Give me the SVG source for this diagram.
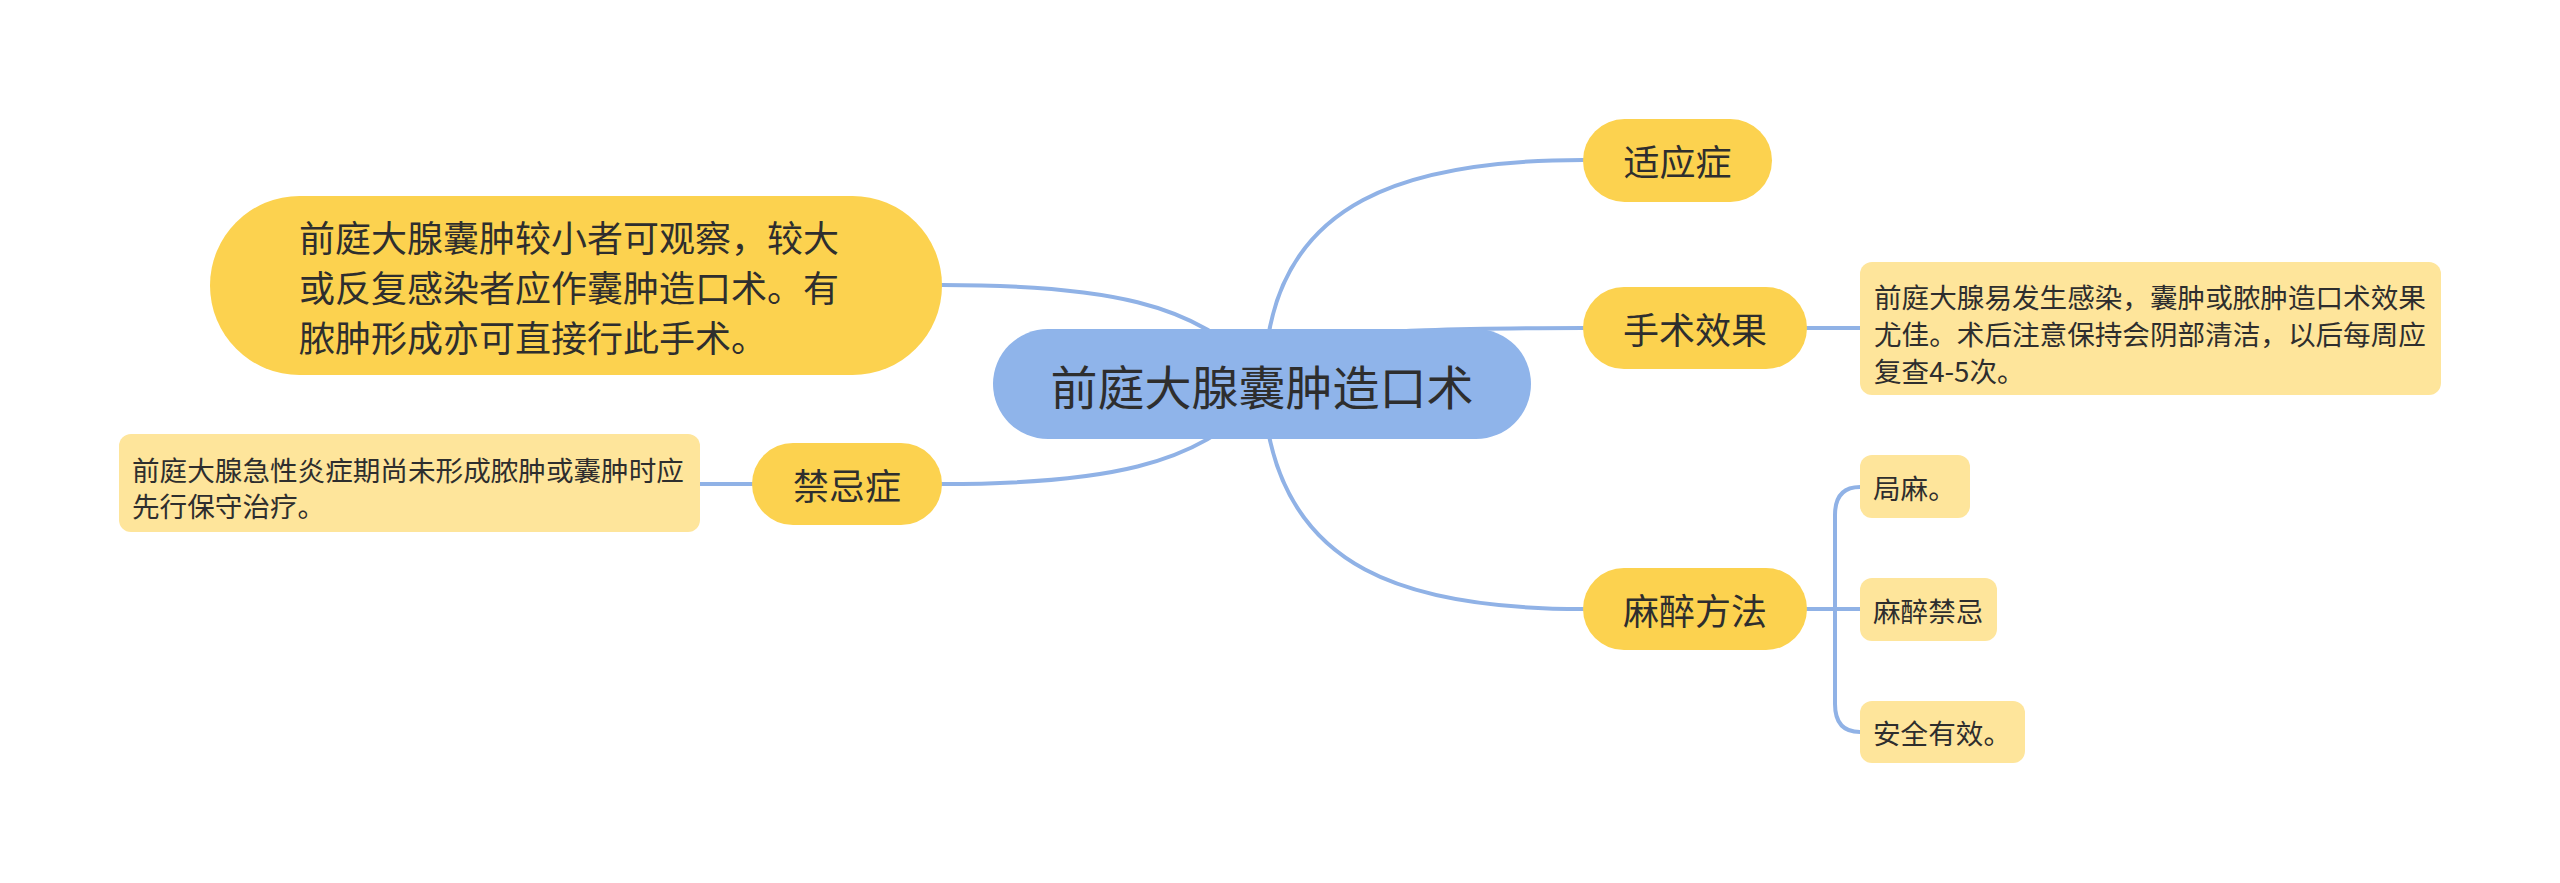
<svg xmlns="http://www.w3.org/2000/svg" width="2560" height="883" viewBox="0 0 2560 883">
<style>
.bg{fill:#ffffff}
.conn{fill:none;stroke:#90b2e6;stroke-width:4;stroke-linecap:round}
.root{fill:#8fb4ea}
.main{fill:#fcd24f}
.leaf{fill:#fee59b}
text{font-family:"Noto Sans CJK SC","Noto Sans",sans-serif;fill:#2e2e2e;dominant-baseline:central}
.t-root{font-size:47px;text-anchor:middle}
.t-main{font-size:36px;text-anchor:middle}
.t-big{font-size:36px}
.t-leaf{font-size:27.6px}
</style>
<rect class="bg" x="0" y="0" width="2560" height="883"/>
<g id="connectors">
<path class="conn" d="M1258,372 C1200,302 1100,285 942,285"/>
<path class="conn" d="M1258,398 C1200,466 1100,484 942,484"/>
<path class="conn" d="M1267,345 C1285,205 1400,160 1583,160"/>
<path class="conn" d="M1267,340 C1400,330 1450,328 1583,328"/>
<path class="conn" d="M1267,425 C1290,565 1400,609 1583,609"/>
<path class="conn" d="M1807,328 L1860,328"/>
<path class="conn" d="M752,484 L700,484"/>
<path class="conn" d="M1807,609 L1860,609"/>
<path class="conn" d="M1860,487 Q1835,487 1835,515 L1835,704 Q1835,732 1860,732"/>
</g>
<g id="root">
<rect class="root" x="993" y="329" width="538" height="110" rx="55"/>
<text class="t-root" x="1262" y="384">前庭大腺囊肿造口术</text>
</g>
<g id="node-big">
<rect class="main" x="210" y="196" width="732" height="179" rx="89.5"/>
<text class="t-big" x="299" y="236">前庭大腺囊肿较小者可观察，较大</text>
<text class="t-big" x="299" y="286">或反复感染者应作囊肿造口术。有</text>
<text class="t-big" x="299" y="336">脓肿形成亦可直接行此手术。</text>
</g>
<g id="node-jinji">
<rect class="main" x="752" y="443" width="190" height="82" rx="41"/>
<text class="t-main" x="847" y="484">禁忌症</text>
</g>
<g id="leaf-jinji">
<rect class="leaf" x="119" y="434" width="581" height="98" rx="12"/>
<text class="t-leaf" x="132" y="469">前庭大腺急性炎症期尚未形成脓肿或囊肿时应</text>
<text class="t-leaf" x="132" y="505">先行保守治疗。</text>
</g>
<g id="node-shiying">
<rect class="main" x="1583" y="119" width="189" height="83" rx="41.5"/>
<text class="t-main" x="1677.5" y="160">适应症</text>
</g>
<g id="node-xiaoguo">
<rect class="main" x="1583" y="287" width="224" height="82" rx="41"/>
<text class="t-main" x="1695" y="328">手术效果</text>
</g>
<g id="leaf-xiaoguo">
<rect class="leaf" x="1860" y="262" width="581" height="133" rx="12"/>
<text class="t-leaf" x="1874" y="296">前庭大腺易发生感染，囊肿或脓肿造口术效果</text>
<text class="t-leaf" x="1874" y="333">尤佳。术后注意保持会阴部清洁，以后每周应</text>
<text class="t-leaf" x="1874" y="370">复查4-5次。</text>
</g>
<g id="node-mazui">
<rect class="main" x="1583" y="568" width="224" height="82" rx="41"/>
<text class="t-main" x="1695" y="609">麻醉方法</text>
</g>
<g id="leaf-juma">
<rect class="leaf" x="1860" y="455" width="110" height="63" rx="12"/>
<text class="t-leaf" x="1873" y="487">局麻。</text>
</g>
<g id="leaf-jinji2">
<rect class="leaf" x="1860" y="578" width="137" height="63" rx="12"/>
<text class="t-leaf" x="1873" y="610">麻醉禁忌</text>
</g>
<g id="leaf-anquan">
<rect class="leaf" x="1860" y="701" width="165" height="62" rx="12"/>
<text class="t-leaf" x="1873" y="732">安全有效。</text>
</g>
</svg>
